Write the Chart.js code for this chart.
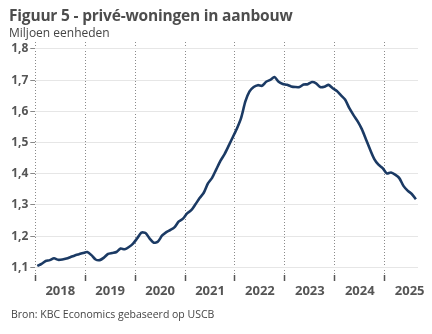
<!DOCTYPE html>
<html><head><meta charset="utf-8">
<script src="https://cdn.jsdelivr.net/npm/chart.js@4"></script>
<style>
html,body{margin:0;padding:0;background:#fff;}
#wrap{position:relative;width:432px;height:334px;overflow:hidden;font-family:"Open Sans",sans-serif;}
#title{position:absolute;left:9px;top:4px;font-size:15.5px;font-weight:700;color:#4d4d4d;white-space:nowrap;letter-spacing:-0.2px;}
#sub{position:absolute;left:9px;top:24px;font-size:12px;color:#444;white-space:nowrap;}
#src{position:absolute;left:11px;top:307px;font-size:10.5px;color:#444;white-space:nowrap;}
canvas{position:absolute;left:0;top:0;}
</style></head>
<body>
<div id="wrap">
<canvas id="c" width="432" height="334"></canvas>
<div id="title">Figuur 5 - privé-woningen in aanbouw</div>
<div id="sub">Miljoen eenheden</div>
<div id="src">Bron: KBC Economics gebaseerd op USCB</div>
</div>
<script>
// Monthly, Jan 2018 .. Aug 2025
const startYear = 2018;
const values = [
1.104,1.111,1.120,1.123,1.129,1.124,1.125,1.128,1.133,1.138,1.142,1.146,
1.149,1.139,1.125,1.123,1.131,1.143,1.146,1.149,1.160,1.158,1.165,1.176,
1.193,1.211,1.210,1.192,1.179,1.183,1.202,1.213,1.220,1.229,1.247,1.256,
1.273,1.283,1.302,1.322,1.339,1.369,1.387,1.414,1.441,1.463,1.490,1.518,
1.546,1.580,1.632,1.664,1.678,1.684,1.682,1.695,1.701,1.710,1.695,1.688,
1.685,1.680,1.678,1.678,1.686,1.687,1.694,1.690,1.678,1.679,1.685,1.674,
1.665,1.651,1.637,1.610,1.588,1.568,1.543,1.510,1.477,1.447,1.429,1.418,
1.401,1.404,1.397,1.386,1.361,1.346,1.335,1.318
];
const yearLabels = ['2018','2019','2020','2021','2022','2023','2024','2025'];
const yTicks = [1.1,1.2,1.3,1.4,1.5,1.6,1.7,1.8];

const points = values.map((v,i)=>({x:i+0.5,y:v}));
const xTickVals = [];
for (let k=0;k<yearLabels.length;k++){ xTickVals.push(k*12); xTickVals.push(k*12+6); }

new Chart(document.getElementById('c'),{
  type:'line',
  data:{datasets:[{data:points,borderColor:'#1b3a64',borderWidth:2.6,pointRadius:0,tension:0.25,fill:false}]},
  options:{
    responsive:false,animation:false,devicePixelRatio:1,
    layout:{padding:{left:0,right:14,top:42,bottom:35}},
    plugins:{legend:{display:false},tooltip:{enabled:false}},
    scales:{
      x:{type:'linear',min:0,max:92,
        afterBuildTicks:s=>{s.ticks=xTickVals.map(v=>({value:v}));},
        afterFit:s=>{s.height=24;},
        border:{display:false,dash:[1,2]},
        grid:{color:c=>(c.tick&&c.tick.value%12===0)?'#8a8a8a':'rgba(0,0,0,0)',lineWidth:1,
              tickColor:c=>(c.tick&&c.tick.value%12===0)?'#555':'rgba(0,0,0,0)',tickLength:6,tickWidth:1.5,drawTicks:true},
        ticks:{autoSkip:false,maxRotation:0,padding:2,color:'#555',font:{family:'"Open Sans"',size:13,weight:'bold'},
          callback:v=>(v%12===6)?yearLabels[(v-6)/12]:''}
      },
      y:{min:1.0753,max:1.8224,
        afterBuildTicks:s=>{s.ticks=yTicks.map(v=>({value:v}));},
        afterFit:s=>{s.width=35.3;},
        border:{display:false},
        grid:{color:'#e6e6e6',lineWidth:1,tickColor:'#888',tickLength:5},
        ticks:{padding:2,color:'#555',font:{family:'"Open Sans"',size:12,weight:'bold'},
          callback:v=>v.toFixed(1).replace('.',',')}
      }
    }
  }
});
</script>
</body></html>
